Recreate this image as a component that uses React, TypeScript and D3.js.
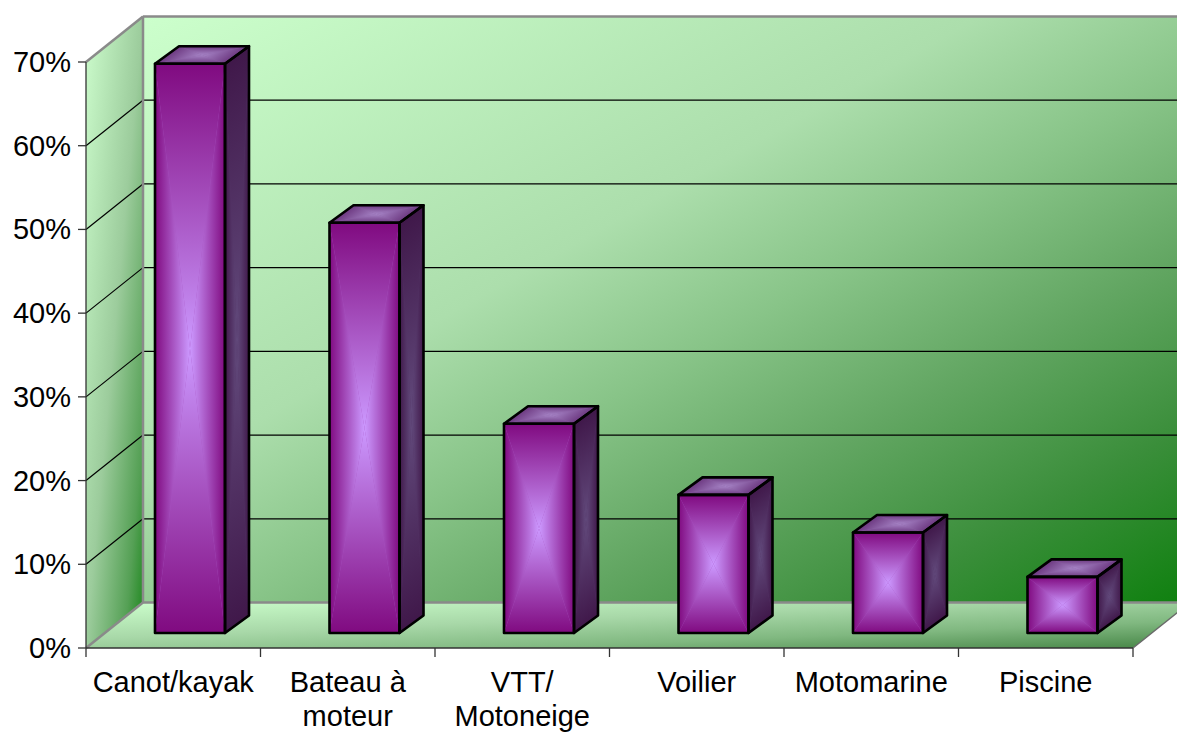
import React from "react";
import * as d3 from "d3";

const categories = ["Canot/kayak", "Bateau à moteur", "VTT/ Motoneige", "Voilier", "Motomarine", "Piscine"];
const labelLines = [["Canot/kayak"], ["Bateau à", "moteur"], ["VTT/", "Motoneige"], ["Voilier"], ["Motomarine"], ["Piscine"]];
const values = [0.68, 0.49, 0.25, 0.165, 0.12, 0.067];
const yTicks = [0, 0.1, 0.2, 0.3, 0.4, 0.5, 0.6, 0.7];
const yTickLabels = ["0%", "10%", "20%", "30%", "40%", "50%", "60%", "70%"];

const W = 1177;
const H = 732;
const X0 = 86;
const X1 = 1133;
const DX = 57;
const DY = -45.5;
const BAR_SHIFT_X = 19;
const BAR_SHIFT_Y = -15;
const BAR_DX = 24;
const BAR_DY = -17.5;
const BAR_W = 70;
const BAR_OFF = 50;
const FONT = "Arial, 'Liberation Sans', Helvetica, sans-serif";
const FS = 29;

type P = [number, number];

function faceParts(id: string, pts: P[], edge: string, center: string) {
  const cx = d3.mean(pts, (p) => p[0]) as number;
  const cy = d3.mean(pts, (p) => p[1]) as number;
  const defs: React.ReactNode[] = [];
  const shapes: React.ReactNode[] = [];
  shapes.push(
    <path key={id + "base"} d={"M" + pts.map((p) => p.join(",")).join("L") + "Z"} fill={d3.interpolateRgb(edge, center)(0.5)} />
  );
  for (let i = 0; i < 4; i++) {
    const a = pts[i];
    const b = pts[(i + 1) % 4];
    const ex = b[0] - a[0];
    const ey = b[1] - a[1];
    const t = ((cx - a[0]) * ex + (cy - a[1]) * ey) / (ex * ex + ey * ey);
    const fx = a[0] + t * ex;
    const fy = a[1] + t * ey;
    const gid = `${id}-${i}`;
    defs.push(
      <linearGradient key={gid} id={gid} gradientUnits="userSpaceOnUse" x1={fx} y1={fy} x2={cx} y2={cy}>
        <stop offset="0" stopColor={edge} />
        <stop offset="1" stopColor={center} />
      </linearGradient>
    );
    shapes.push(
      <path key={gid + "p"} d={`M${a[0]},${a[1]}L${b[0]},${b[1]}L${cx},${cy}Z`} fill={`url(#${gid})`} />
    );
  }
  return { defs, shapes };
}

export default function App() {
  React.useEffect(() => {
    document.body.style.margin = "0";
  }, []);

  const x = d3.scaleBand<string>().domain(categories).range([X0, X1]).paddingInner(0).paddingOuter(0);
  const y = d3.scaleLinear().domain([0, 0.7]).range([648, 62]);
  const y0 = y(0);
  const yTop = y(0.7);

  const defs: React.ReactNode[] = [];
  const bars: React.ReactNode[] = [];

  categories.forEach((c, i) => {
    const v = values[i];
    const bx0 = (x(c) as number) + BAR_SHIFT_X + BAR_OFF;
    const bx1 = bx0 + BAR_W;
    const base = y0 + BAR_SHIFT_Y;
    const top = y(v) + BAR_SHIFT_Y;
    const front: P[] = [[bx0, top], [bx1, top], [bx1, base], [bx0, base]];
    const side: P[] = [[bx1, top], [bx1 + BAR_DX, top + BAR_DY], [bx1 + BAR_DX, base + BAR_DY], [bx1, base]];
    const topF: P[] = [[bx0, top], [bx0 + BAR_DX, top + BAR_DY], [bx1 + BAR_DX, top + BAR_DY], [bx1, top]];
    const f = faceParts(`bf${i}`, front, "#800a80", "#cc99ff");
    const s = faceParts(`bs${i}`, side, "#40184a", "#624a7c");
    const t = faceParts(`bt${i}`, topF, "#6c3880", "#a684c6");
    defs.push(...f.defs, ...s.defs, ...t.defs);
    const outline = (pts: P[]) => "M" + pts.map((p) => p.join(",")).join("L") + "Z";
    bars.push(
      <g key={"bar" + i}>
        {f.shapes}
        {s.shapes}
        {t.shapes}
        <path d={outline(front)} fill="none" stroke="#000" strokeWidth={2.6} strokeLinejoin="round" />
        <path d={outline(side)} fill="none" stroke="#000" strokeWidth={2.6} strokeLinejoin="round" />
        <path d={outline(topF)} fill="none" stroke="#000" strokeWidth={2.6} strokeLinejoin="round" />
      </g>
    );
  });

  const backWall = `M${X0 + DX},${yTop + DY}L${X1 + DX},${yTop + DY}L${X1 + DX},${y0 + DY}L${X0 + DX},${y0 + DY}Z`;
  const leftWall = `M${X0},${y0}L${X0},${yTop}L${X0 + DX},${yTop + DY}L${X0 + DX},${y0 + DY}Z`;
  const floor = `M${X0},${y0}L${X0 + DX},${y0 + DY}L${X1 + DX},${y0 + DY}L${X1},${y0}Z`;

  const gridTicks = yTicks.filter((t) => t > 0 && t < 0.7);

  return (
    <svg width={W} height={H} style={{ position: "absolute", left: 0, top: 0, display: "block" }}>
      <defs>
        <linearGradient id="backG" x1="0" y1="0" x2="1" y2="1">
          <stop offset="0" stopColor="#ccffcc" />
          <stop offset="0.4" stopColor="#acdeac" />
          <stop offset="0.55" stopColor="#88c488" />
          <stop offset="0.7" stopColor="#62a662" />
          <stop offset="0.85" stopColor="#3a8e3a" />
          <stop offset="1" stopColor="#0e800e" />
        </linearGradient>
        <linearGradient id="leftG" x1="0" y1="0" x2="1" y2="1">
          <stop offset="0" stopColor="#ccfccc" />
          <stop offset="0.5" stopColor="#9ccc9c" />
          <stop offset="0.83" stopColor="#55a055" />
          <stop offset="1" stopColor="#1a861a" />
        </linearGradient>
        <linearGradient id="floorG" x1="0" y1="0" x2="1" y2="1">
          <stop offset="0" stopColor="#ccffcc" />
          <stop offset="0.4" stopColor="#a8d8a8" />
          <stop offset="0.7" stopColor="#80b880" />
          <stop offset="1" stopColor="#458545" />
        </linearGradient>
        {defs}
      </defs>

      <path d={backWall} fill="url(#backG)" />
      <path d={leftWall} fill="url(#leftG)" />
      <path d={floor} fill="url(#floorG)" />

      {gridTicks.map((t) => (
        <g key={"grid" + t}>
          <line x1={X0} y1={y(t)} x2={X0 + DX} y2={y(t) + DY} stroke="#000" strokeWidth={1.2} />
          <line x1={X0 + DX} y1={y(t) + DY} x2={X1 + DX} y2={y(t) + DY} stroke="#000" strokeWidth={1.2} />
        </g>
      ))}

      <line x1={X0 + DX} y1={yTop + DY} x2={X1 + DX} y2={yTop + DY} stroke="#8a8a8a" strokeWidth={2.5} />
      <line x1={X0 + DX} y1={yTop + DY} x2={X0 + DX} y2={y0 + DY} stroke="#8a8a8a" strokeWidth={2.5} />
      <line x1={X0} y1={yTop} x2={X0 + DX} y2={yTop + DY} stroke="#8a8a8a" strokeWidth={2.5} />
      <line x1={X0} y1={y0} x2={X0 + DX} y2={y0 + DY} stroke="#8a8a8a" strokeWidth={2.5} />
      <line x1={X0 + DX} y1={y0 + DY} x2={X1 + DX} y2={y0 + DY} stroke="#8a8a8a" strokeWidth={2.5} />
      <line x1={X1} y1={y0} x2={X1 + DX} y2={y0 + DY} stroke="#6a6a6a" strokeWidth={1.5} />

      {bars}

      <line x1={X0} y1={yTop} x2={X0} y2={y0 + 9} stroke="#333" strokeWidth={1.3} />
      <line x1={X0} y1={y0} x2={X1} y2={y0} stroke="#333" strokeWidth={1.3} />
      {yTicks.map((t, i) => (
        <g key={"yt" + t}>
          <line x1={X0 - 8} y1={y(t)} x2={X0} y2={y(t)} stroke="#333" strokeWidth={1.3} />
          <text x={X0 - 15} y={y(t) + 10} textAnchor="end" fontFamily={FONT} fontSize={FS} fill="#000">
            {yTickLabels[i]}
          </text>
        </g>
      ))}
      {categories.map((c) => (
        <line key={"xt" + c} x1={(x(c) as number) + x.bandwidth()} y1={y0} x2={(x(c) as number) + x.bandwidth()} y2={y0 + 9} stroke="#333" strokeWidth={1.3} />
      ))}
      {categories.map((c, i) => (
        <text key={"xl" + c} x={(x(c) as number) + x.bandwidth() / 2} y={692} textAnchor="middle" fontFamily={FONT} fontSize={FS} fill="#000">
          {labelLines[i].map((ln, j) => (
            <tspan key={j} x={(x(c) as number) + x.bandwidth() / 2} dy={j === 0 ? 0 : 34}>
              {ln}
            </tspan>
          ))}
        </text>
      ))}
    </svg>
  );
}
